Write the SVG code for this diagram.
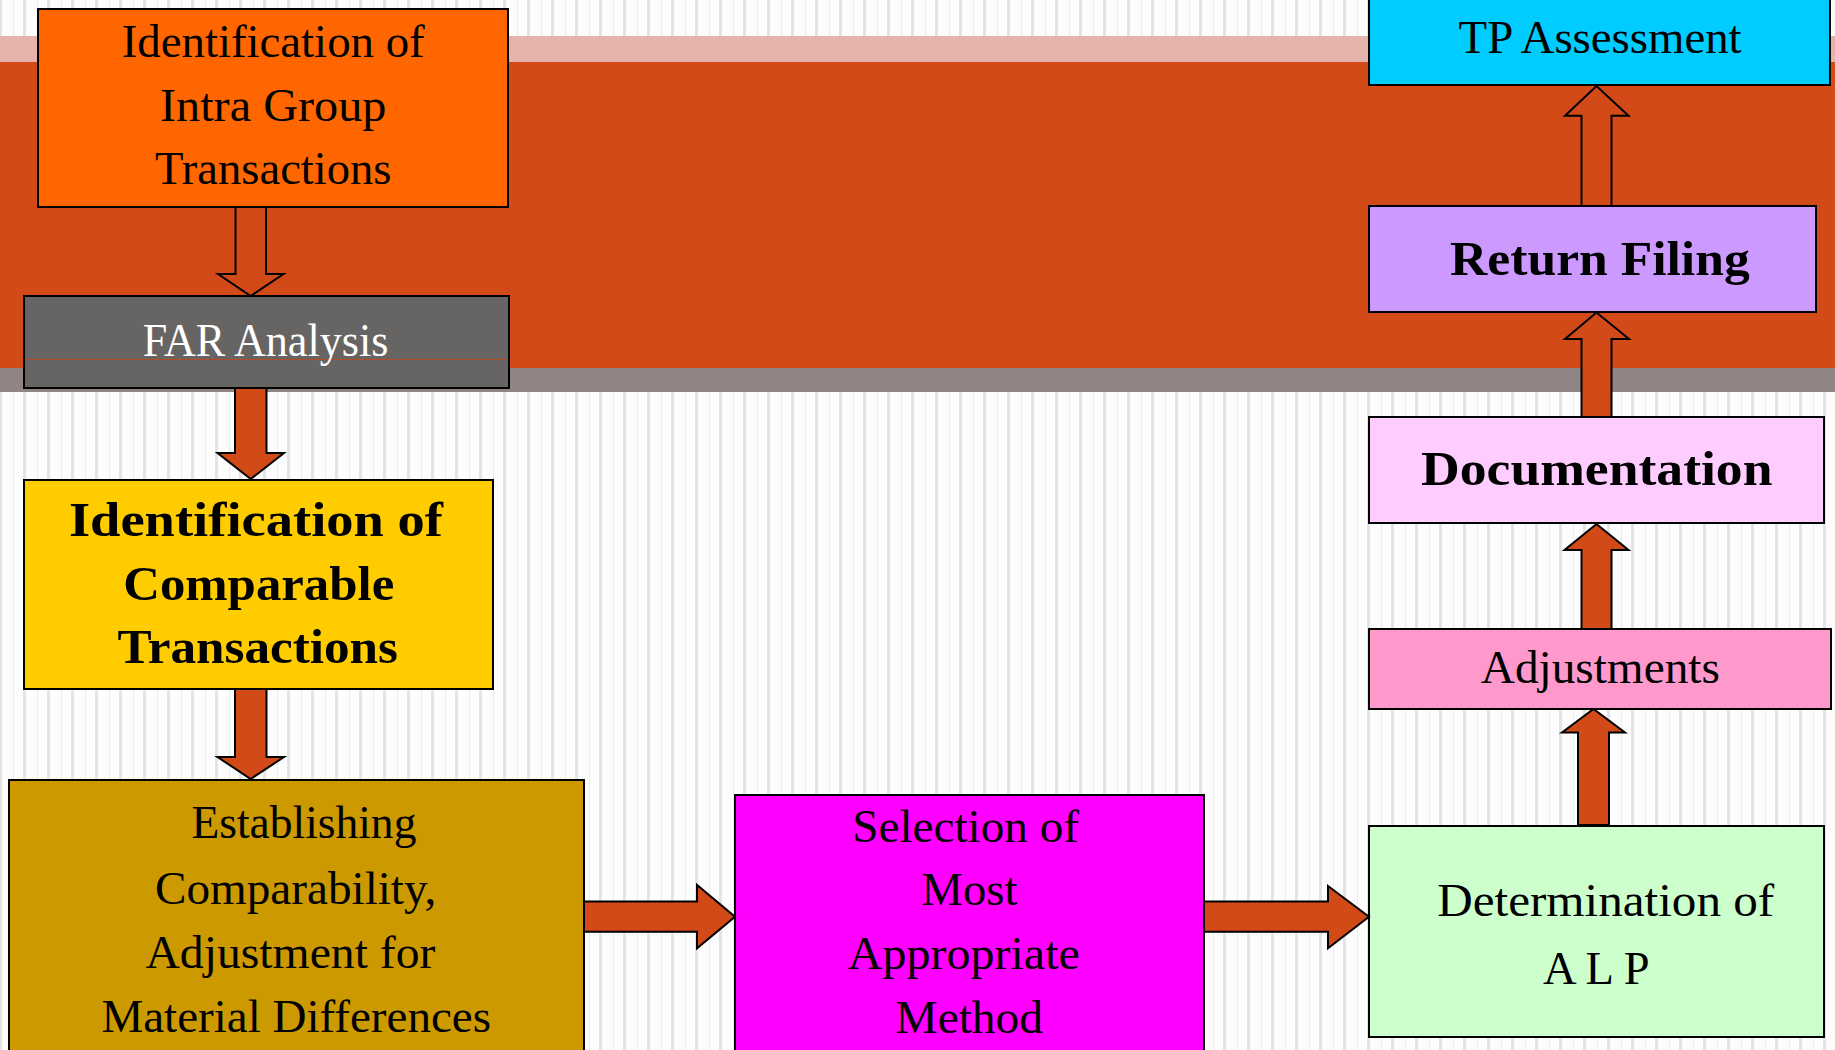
<svg xmlns="http://www.w3.org/2000/svg" width="1835" height="1050" viewBox="0 0 1835 1050">
<defs>
<pattern id="stripes" patternUnits="userSpaceOnUse" x="0" y="0" width="24" height="10">
<rect x="0" y="0" width="24" height="10" fill="#fdfdfd"/>
<rect x="0" y="0" width="2" height="10" fill="#e4e4e4"/>
<rect x="23" y="0" width="1" height="10" fill="#e4e4e4"/>
<rect x="13" y="0" width="1" height="10" fill="#ececec"/>
</pattern>
<style>
.box{stroke:#000;stroke-width:2}
.arr{fill:#d24a18;stroke:#000;stroke-width:2;stroke-linejoin:miter}
.t{font-family:"Liberation Serif","DejaVu Serif",serif;font-size:46px;fill:#000}
.b{font-family:"Liberation Serif","DejaVu Serif",serif;font-size:48px;font-weight:bold;fill:#000}
</style>
</defs>
<g id="background">
<rect x="0" y="0" width="1835" height="1050" fill="url(#stripes)"/>
<rect x="0" y="36" width="1835" height="26" fill="#e6b2ac"/>
<rect x="0" y="62" width="1835" height="306" fill="#d24a18"/>
<rect x="0" y="368" width="1835" height="24" fill="#908584"/>
</g>
<g id="node-intra">
<rect class="box" x="38" y="9" width="470" height="198" fill="#ff6600"/>
<text class="t" x="121.7" y="57.3" textLength="303" lengthAdjust="spacingAndGlyphs">Identification of</text>
<text class="t" x="160" y="120.7" textLength="226.5" lengthAdjust="spacingAndGlyphs">Intra Group</text>
<text class="t" x="155" y="184.3" textLength="236.5" lengthAdjust="spacingAndGlyphs">Transactions</text>
</g>
<g id="node-far">
<rect class="box" x="24" y="296" width="485" height="92" fill="#676563"/>
<line x1="25" y1="359.5" x2="507" y2="359.5" stroke="#b84a22" stroke-width="1"/>
<text class="t" x="142.7" y="356" textLength="245.7" lengthAdjust="spacingAndGlyphs" fill="#ffffff" style="fill:#ffffff">FAR Analysis</text>
</g>
<g id="node-comparable">
<rect class="box" x="24" y="480" width="469" height="209" fill="#ffcc00"/>
<text class="b" x="68.9" y="535.7" textLength="374" lengthAdjust="spacingAndGlyphs">Identification of</text>
<text class="b" x="123.2" y="599.6" textLength="271" lengthAdjust="spacingAndGlyphs">Comparable</text>
<text class="b" x="117.5" y="663.1" textLength="280.5" lengthAdjust="spacingAndGlyphs">Transactions</text>
</g>
<g id="node-establishing">
<rect class="box" x="9" y="780" width="575" height="290" fill="#cc9900"/>
<text class="t" x="191.4" y="837.8" textLength="225" lengthAdjust="spacingAndGlyphs">Establishing</text>
<text class="t" x="155" y="904.1" textLength="281.3" lengthAdjust="spacingAndGlyphs">Comparability,</text>
<text class="t" x="145.4" y="968.4" textLength="290" lengthAdjust="spacingAndGlyphs">Adjustment for</text>
<text class="t" x="101.4" y="1031.7" textLength="389.6" lengthAdjust="spacingAndGlyphs">Material Differences</text>
</g>
<g id="node-method">
<rect class="box" x="735" y="795" width="469" height="275" fill="#ff00ff"/>
<text class="t" x="852.2" y="841.7" textLength="226.8" lengthAdjust="spacingAndGlyphs">Selection of</text>
<text class="t" x="921.4" y="905" textLength="96" lengthAdjust="spacingAndGlyphs">Most</text>
<text class="t" x="847.8" y="969.3" textLength="232" lengthAdjust="spacingAndGlyphs">Appropriate</text>
<text class="t" x="895.5" y="1032.7" textLength="147.4" lengthAdjust="spacingAndGlyphs">Method</text>
</g>
<g id="node-alp">
<rect class="box" x="1369" y="826" width="455" height="211" fill="#ccffcc"/>
<text class="t" x="1437.2" y="916.2" textLength="337" lengthAdjust="spacingAndGlyphs">Determination of</text>
<text class="t" x="1542.9" y="983.7" textLength="106.8" lengthAdjust="spacingAndGlyphs">A L P</text>
</g>
<g id="node-adjustments">
<rect class="box" x="1369" y="629" width="462" height="80" fill="#ff99cc"/>
<text class="t" x="1480.8" y="683.2" textLength="239" lengthAdjust="spacingAndGlyphs">Adjustments</text>
</g>
<g id="node-documentation">
<rect class="box" x="1369" y="417" width="455" height="106" fill="#ffccff"/>
<text class="b" x="1421.1" y="485" textLength="351.4" lengthAdjust="spacingAndGlyphs">Documentation</text>
</g>
<g id="node-return">
<rect class="box" x="1369" y="206" width="447" height="106" fill="#cc99ff"/>
<text class="b" x="1450.1" y="275" textLength="299.6" lengthAdjust="spacingAndGlyphs">Return Filing</text>
</g>
<g id="node-tp">
<rect class="box" x="1369" y="-5" width="461" height="90" fill="#00ccff"/>
<text class="t" x="1458.6" y="53.3" textLength="283" lengthAdjust="spacingAndGlyphs">TP Assessment</text>
</g>
<g id="connectors">
<polygon class="arr" points="235.5,207 266,207 266,274 283.5,274 250.7,296 218,274 235.5,274"/>
<polygon class="arr" points="235,388 266.5,388 266.5,453 284,453 250.7,479 217.5,453 235,453"/>
<polygon class="arr" points="235,689 266.5,689 266.5,757 284,757 250.7,779 217.5,757 235,757"/>
<polygon class="arr" points="584,901.5 697,901.5 697,885 735,916.7 697,948.3 697,931.7 584,931.7"/>
<polygon class="arr" points="1204,901.5 1328,901.5 1328,886 1369,916.7 1328,948.3 1328,931.7 1204,931.7"/>
<polygon class="arr" points="1578,825 1578,732.5 1562,732.5 1593.5,709 1625,732.5 1609,732.5 1609,825"/>
<polygon class="arr" points="1581.5,629 1581.5,550 1564.5,550 1596.5,524 1628.5,550 1611.5,550 1611.5,629"/>
<polygon class="arr" points="1581.5,417 1581.5,339 1565,339 1596.5,312.5 1629,339 1611.5,339 1611.5,417"/>
<polygon class="arr" points="1581.5,206 1581.5,115.7 1565,115.7 1596.5,86 1628.5,115.7 1611.5,115.7 1611.5,206"/>
</g>
</svg>
